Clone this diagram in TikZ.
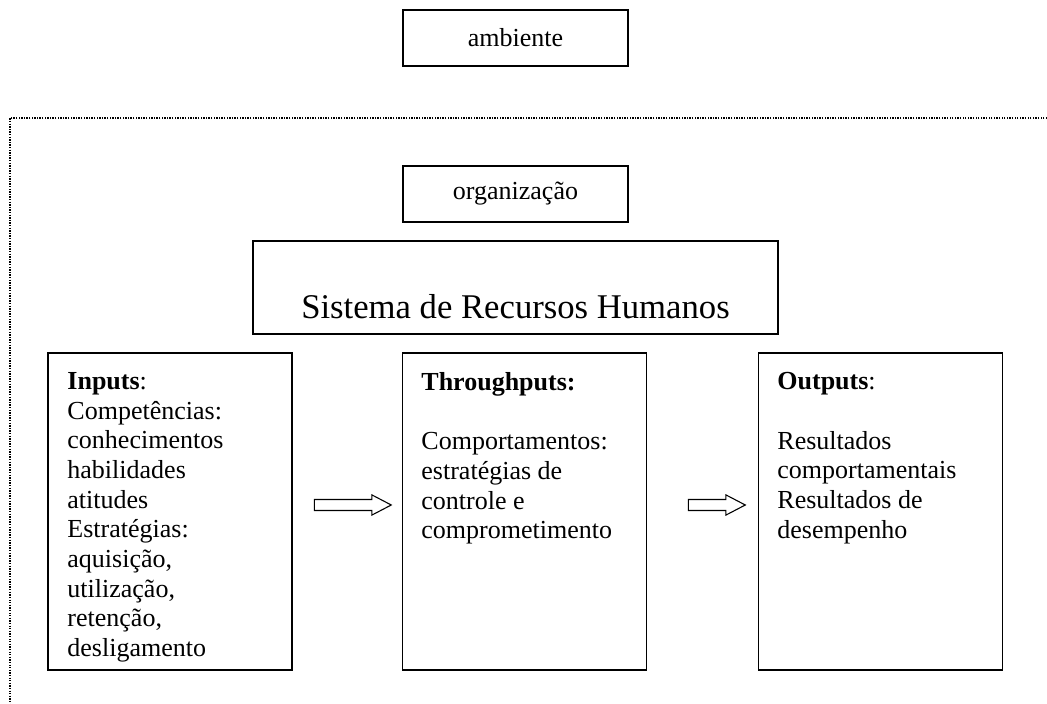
\documentclass[tikz,border=0pt]{standalone}
\usepackage{fontspec}
\setmainfont{Liberation Serif}
\usetikzlibrary{shapes.arrows}

\begin{document}
\begin{tikzpicture}[x=0.4615pt, y=-0.4615pt,
	box/.style={draw, line width=0.6pt, inner sep=0pt},
	boxtext/.style={inner sep=0pt, font=\fontsize{12}{13.7}\selectfont},
	coltext/.style={boxtext, anchor=north west, align=left},
	hollowarrow/.style={single arrow, draw, line width=0.5pt, inner sep=0pt, text height=4.6pt, text depth=0pt, single arrow head extend=2.1pt, single arrow tip angle=55}]
	\useasboundingbox (0,0) rectangle (1047,704);
	\draw [line width=0.5pt, dash pattern=on 0.6pt off 0.6pt] (1047,118) -- (10,118) -- (10,704);
	\node [box, boxtext, minimum width=103.8pt, minimum height=25.8pt] (amb) at (515.5,38) {ambiente};
	\node [box, boxtext, minimum width=103.8pt, minimum height=25.8pt] (org) at (515.5,194) {organização};
	\node [box, minimum width=242.3pt, minimum height=42.9pt] (srh) at (515.5,287.5) {};
	\node [inner sep=0pt, anchor=base, font=\fontsize{16}{19}\selectfont] (srhtext) at (515.5,319) {Sistema de Recursos Humanos};
	\node [box, minimum width=112.6pt, minimum height=146.3pt] (inbox) at (170,511.5) {};
	\node [box, minimum width=112.6pt, minimum height=146.3pt] (thbox) at (524.5,511.5) {};
	\node [box, minimum width=112.6pt, minimum height=146.3pt] (outbox) at (880.5,511.5) {};
	\node [coltext] (intext) at (67,372) {\textbf{Inputs}:\\ Competências:\\ conhecimentos\\ habilidades\\ atitudes\\ Estratégias:\\ aquisição,\\ utilização,\\ retenção,\\ desligamento};
	\node [coltext] (thtext) at (421,372) {\textbf{Throughputs:}\\[13.7pt] Comportamentos:\\ estratégias de\\ controle e\\ comprometimento};
	\node [coltext] (outtext) at (777,372) {\textbf{Outputs}:\\[13.7pt] Resultados\\ comportamentais\\ Resultados de\\ desempenho};
	\node [hollowarrow, minimum height=35.5pt] (arrowA) at (347.5,505) {};
	\node [hollowarrow, minimum height=26.3pt] (arrowB) at (711.5,505) {};
\end{tikzpicture}
\end{document}
